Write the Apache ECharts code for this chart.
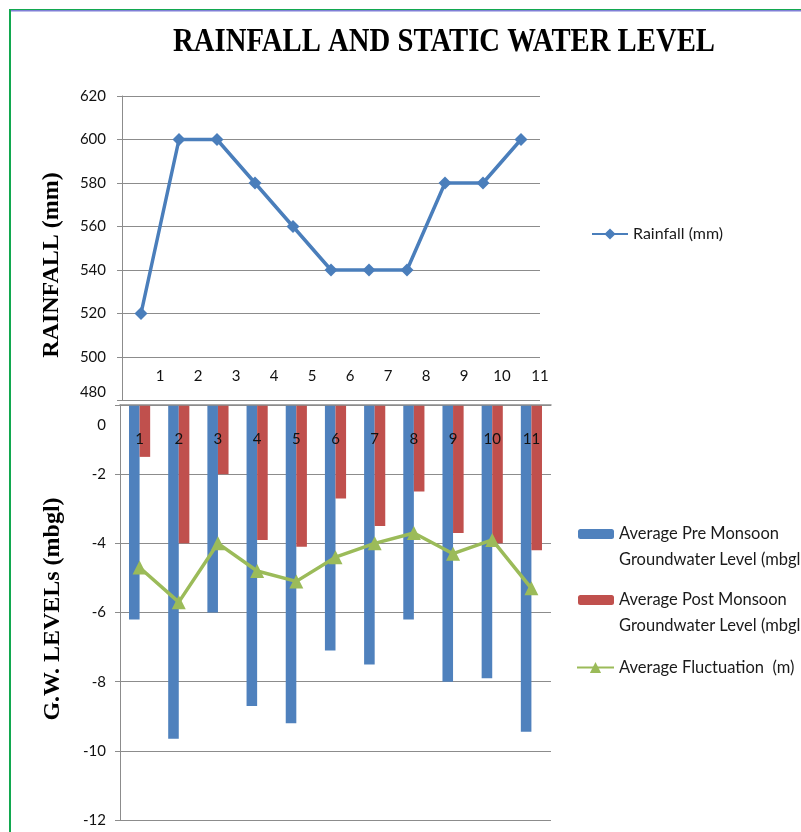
<!DOCTYPE html>
<html>
<head>
<meta charset="utf-8">
<script src="https://cdn.jsdelivr.net/npm/echarts@6/dist/echarts.min.js"></script>
<style>
  html, body { margin: 0; padding: 0; background: #fff; }
  #chart { width: 801px; height: 832px; }
</style>
</head>
<body>
<div id="chart"></div>
<script>
// data
var categories = ['1', '2', '3', '4', '5', '6', '7', '8', '9', '10', '11'];
var rainfall = [520, 600, 600, 580, 560, 540, 540, 540, 580, 580, 600];
var preMonsoon = [-6.2, -9.65, -6.0, -8.7, -9.2, -7.1, -7.5, -6.2, -8.0, -7.9, -9.45];
var postMonsoon = [-1.5, -4.0, -2.0, -3.9, -4.1, -2.7, -3.5, -2.5, -3.7, -4.0, -4.2];
var fluctuation = [-4.7, -5.7, -4.0, -4.8, -5.1, -4.4, -4.0, -3.7, -4.3, -3.9, -5.3];

var rainTicks = { min: 480, max: 620, interval: 20 };
var levelTicks = { min: -12, max: 0, interval: 2 };

var gridColor = '#8c8c8c';
var labelFont = 'Lato, "Liberation Sans", sans-serif';
var serifFont = '"Liberation Serif", "DejaVu Serif", serif';

var chart = echarts.init(document.getElementById('chart'));

var option = {
    backgroundColor: '#ffffff',
    animation: false,
    grid: [
        { left: 122, right: 261, top: 96, height: 304.5 },
        { left: 120, right: 250, top: 405, height: 415 }
    ],
    xAxis: [
        {
            type: 'category',
            gridIndex: 0,
            data: categories,
            position: 'bottom',
            boundaryGap: true,
            axisLine: { show: false },
            axisTick: { show: false },
            axisLabel: {
                inside: true,
                margin: 17,
                padding: [0, 0, 0, 38],
                color: '#111',
                fontFamily: labelFont,
                fontSize: 15
            }
        },
        {
            type: 'category',
            gridIndex: 1,
            data: categories,
            position: 'top',
            boundaryGap: true,
            z: 10,
            axisLine: { onZero: false, lineStyle: { color: gridColor, width: 1.5 } },
            axisTick: { inside: true, length: 8, lineStyle: { color: gridColor } },
            axisLabel: {
                inside: true,
                margin: 27,
                color: '#111',
                fontFamily: labelFont,
                fontSize: 15
            }
        }
    ],
    yAxis: [
        {
            type: 'value',
            gridIndex: 0,
            min: rainTicks.min,
            max: rainTicks.max,
            interval: rainTicks.interval,
            axisLine: { show: true, lineStyle: { color: gridColor } },
            axisTick: { show: true, length: 5, lineStyle: { color: gridColor } },
            splitLine: { lineStyle: { color: gridColor } },
            axisLabel: {
                margin: 16,
                color: '#111',
                fontFamily: labelFont,
                fontSize: 15,
                formatter: function (v) {
                    return v === rainTicks.min ? '{u|' + v + '}' : String(v);
                },
                rich: {
                    u: { padding: [0, 0, 16, 0], fontFamily: labelFont, fontSize: 15, color: '#111' }
                }
            }
        },
        {
            type: 'value',
            gridIndex: 1,
            min: levelTicks.min,
            max: levelTicks.max,
            interval: levelTicks.interval,
            axisLine: { show: true, lineStyle: { color: gridColor } },
            axisTick: { show: true, length: 5, lineStyle: { color: gridColor } },
            splitLine: { lineStyle: { color: gridColor } },
            axisLabel: {
                margin: 14,
                color: '#111',
                fontFamily: labelFont,
                fontSize: 15,
                formatter: function (v) {
                    return v === 0 ? '{z|0}' : String(v);
                },
                rich: {
                    z: { padding: [40, 0, 0, 0], fontFamily: labelFont, fontSize: 15, color: '#111' }
                }
            }
        }
    ],
    legend: [
        {
            data: ['Rainfall (mm)'],
            left: 591,
            top: 226,
            padding: 0,
            itemWidth: 36,
            itemHeight: 14,
            selectedMode: false,
            textStyle: { fontFamily: labelFont, fontSize: 16, color: '#1a1a1a' }
        },
        {
            data: ['Average Pre Monsoon Groundwater Level (mbgl)', 'Average Post Monsoon Groundwater Level (mbgl)'],
            orient: 'vertical',
            left: 578,
            top: 495,
            padding: 0,
            itemWidth: 36,
            itemHeight: 10,
            itemGap: -12,
            selectedMode: false,
            // blank first line keeps the first text line level with the swatch
            formatter: function (name) {
                return '\n' + name.replace(' Groundwater', '\nGroundwater');
            },
            textStyle: {
                fontFamily: labelFont,
                fontSize: 16.5,
                lineHeight: 26,
                color: '#1a1a1a'
            }
        },
        {
            data: ['Average Fluctuation  (m)'],
            left: 576,
            top: 659,
            padding: 0,
            itemWidth: 37,
            itemHeight: 14,
            selectedMode: false,
            textStyle: { fontFamily: labelFont, fontSize: 16.5, color: '#1a1a1a' }
        }
    ],
    series: [
        {
            name: 'Rainfall (mm)',
            type: 'line',
            xAxisIndex: 0,
            yAxisIndex: 0,
            data: rainfall,
            symbol: 'diamond',
            symbolSize: 13,
            color: '#4a7ebb',
            lineStyle: { width: 3.5, color: '#4a7ebb' },
            itemStyle: { color: '#4a7ebb' }
        },
        {
            name: 'Average Pre Monsoon Groundwater Level (mbgl)',
            type: 'bar',
            xAxisIndex: 1,
            yAxisIndex: 1,
            data: preMonsoon,
            barWidth: '27%',
            barGap: '0%',
            itemStyle: { color: '#4f81bd' }
        },
        {
            name: 'Average Post Monsoon Groundwater Level (mbgl)',
            type: 'bar',
            xAxisIndex: 1,
            yAxisIndex: 1,
            data: postMonsoon,
            barWidth: '27%',
            barGap: '0%',
            itemStyle: { color: '#c0504d' }
        },
        {
            name: 'Average Fluctuation  (m)',
            type: 'line',
            xAxisIndex: 1,
            yAxisIndex: 1,
            data: fluctuation,
            symbol: 'triangle',
            symbolSize: 14,
            color: '#9bbb59',
            lineStyle: { width: 3.5, color: '#9bbb59' },
            itemStyle: { color: '#9bbb59' }
        }
    ],
    graphic: [
        // frame lines
        { type: 'rect', shape: { x: 9, y: 9, width: 792, height: 1 }, style: { fill: '#12a84f' }, silent: true },
        { type: 'rect', shape: { x: 11, y: 10, width: 790, height: 1.5 }, style: { fill: '#7f7fd6' }, silent: true },
        { type: 'rect', shape: { x: 9, y: 9, width: 2, height: 823 }, style: { fill: '#12a84f' }, silent: true },
        {
            type: 'text',
            x: 444,
            y: 42,
            scaleX: 0.87,
            style: {
                text: 'RAINFALL AND STATIC WATER LEVEL',
                font: 'bold 33px ' + serifFont,
                fill: '#000',
                textAlign: 'center',
                textVerticalAlign: 'middle'
            }
        },
        {
            type: 'text',
            x: 52,
            y: 265,
            rotation: Math.PI / 2,
            style: {
                text: 'RAINFALL (mm)',
                font: 'bold 24px ' + serifFont,
                fill: '#000',
                textAlign: 'center',
                textVerticalAlign: 'middle'
            }
        },
        {
            type: 'text',
            x: 53,
            y: 609,
            rotation: Math.PI / 2,
            style: {
                text: 'G.W. LEVELs (mbgl)',
                font: 'bold 24px ' + serifFont,
                fill: '#000',
                textAlign: 'center',
                textVerticalAlign: 'middle'
            }
        }
    ]
};

chart.setOption(option);
</script>
</body>
</html>
